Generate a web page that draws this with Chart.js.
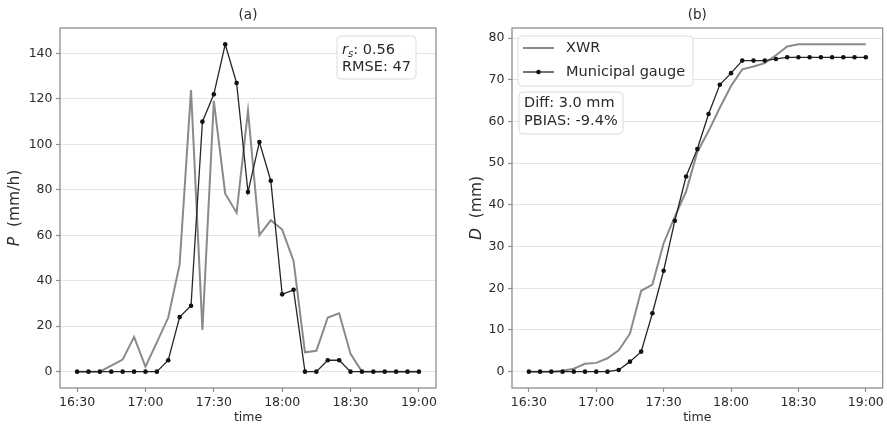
<!DOCTYPE html>
<html>
<head>
<meta charset="utf-8">
<script src="https://cdn.jsdelivr.net/npm/chart.js@4.4.1/dist/chart.umd.min.js"></script>
<style>
  html, body { margin: 0; padding: 0; background: #fff; }
  #wrap { position: relative; width: 887px; height: 425px; overflow: hidden; }
  canvas { position: absolute; top: 0; }
  #ca { left: 0; }
  #cb { left: 450px; }
</style>
</head>
<body>
<div id="wrap">
  <canvas id="ca" width="450" height="425"></canvas>
  <canvas id="cb" width="437" height="425"></canvas>
</div>
<script>
// 5-minute time steps
const times = ['16:30','16:35','16:40','16:45','16:50','16:55','17:00','17:05','17:10','17:15','17:20',
               '17:25','17:30','17:35','17:40','17:45','17:50','17:55','18:00','18:05','18:10',
               '18:15','18:20','18:25','18:30','18:35','18:40','18:45','18:50','18:55','19:00'];

// Rain rate P (mm/h)
const xwrRate   = [0,0,0,2.6,5.3,15.3,2.2,12.9,23.8,47.2,123.9,18.3,119.1,78.3,69.9,114.8,60.1,66.6,62.5,48.7,
                   8.5,9.2,23.8,25.7,7.8,0,0,0,0,0,0];
const gaugeRate = [0,0,0,0,0,0,0,0,5,24,29,110,122,144,127,79,101,84,34,36,
                   0,0,5,5,0,0,0,0,0,0,0];

// Accumulated depth D (mm)
const xwrDepth   = [0,0,0,0.2,0.7,1.9,2.1,3.2,5.1,9.1,19.4,20.9,30.8,37.2,43.2,52.7,57.7,63.3,68.5,72.5,
                    73.2,74.0,75.9,78.0,78.5,78.5,78.5,78.5,78.5,78.5,78.5];
const gaugeDepth = [0,0,0,0,0,0,0,0,0.4,2.4,4.8,14.0,24.2,36.2,46.8,53.4,61.8,68.8,71.6,74.6,
                    74.6,74.6,75.0,75.4,75.4,75.4,75.4,75.4,75.4,75.4,75.4];

const timeTicks  = ['16:30','17:00','17:30','18:00','18:30','19:00'];
const rateTicks  = [0,20,40,60,80,100,120,140];
const depthTicks = [0,10,20,30,40,50,60,70,80];

const seriesNames = ['XWR', 'Municipal gauge'];
const rateStats  = { rs: '0.56', rmse: '47' };
const depthStats = { diff: '3.0 mm', pbias: '-9.4%' };

const FONT = '"DejaVu Sans", sans-serif';
const TEXT = '#2a2a2a';
const FRAME = '#8f8f8f';
const GRID = '#e4e4e4';
const XWR_COLOR = '#8a8a8a';
const GAUGE_COLOR = '#262626';

const toMin = s => { const [h, m] = s.split(':').map(Number); return h * 60 + m - (16 * 60 + 30); };
const pts = vals => vals.map((v, i) => ({ x: toMin(times[i]), y: v }));

function padRange(arrs) {
  const all = [].concat(...arrs);
  const lo = Math.min(...all), hi = Math.max(...all);
  const p = (hi - lo) * 0.05;
  return [lo - p, hi + p];
}

function roundBox(ctx, x, y, w, h, r) {
  ctx.beginPath();
  ctx.moveTo(x + r, y);
  ctx.lineTo(x + w - r, y); ctx.arcTo(x + w, y, x + w, y + r, r);
  ctx.lineTo(x + w, y + h - r); ctx.arcTo(x + w, y + h, x + w - r, y + h, r);
  ctx.lineTo(x + r, y + h); ctx.arcTo(x, y + h, x, y + h - r, r);
  ctx.lineTo(x, y + r); ctx.arcTo(x, y, x + r, y, r);
  ctx.closePath();
  ctx.fillStyle = 'rgba(255,255,255,0.85)';
  ctx.fill();
  ctx.strokeStyle = '#dcdcdc';
  ctx.lineWidth = 1;
  ctx.stroke();
}

function panelDecor(title, yItalic, yRest, yLabelX, extra) {
  return {
    id: 'panelDecor',
    afterDatasetsDraw(chart) {
      const { ctx, chartArea: a } = chart;
      ctx.save();
      // full frame around the plotting area
      ctx.strokeStyle = FRAME;
      ctx.lineWidth = 1.3;
      ctx.strokeRect(a.left, a.top, a.right - a.left, a.bottom - a.top);
      // panel title
      ctx.fillStyle = TEXT;
      ctx.font = '13.5px ' + FONT;
      ctx.textAlign = 'center';
      ctx.textBaseline = 'middle';
      ctx.fillText(title, (a.left + a.right) / 2, 15);
      // rotated y label with italic symbol
      ctx.save();
      ctx.translate(yLabelX, (a.top + a.bottom) / 2);
      ctx.rotate(-Math.PI / 2);
      ctx.textAlign = 'left';
      ctx.font = 'italic 15.5px ' + FONT;
      const w1 = ctx.measureText(yItalic).width;
      ctx.font = '15.5px ' + FONT;
      const w2 = ctx.measureText(yRest).width;
      let x0 = -(w1 + w2) / 2;
      ctx.font = 'italic 15.5px ' + FONT;
      ctx.fillText(yItalic, x0, 0);
      ctx.font = '15.5px ' + FONT;
      ctx.fillText(yRest, x0 + w1, 0);
      ctx.restore();
      extra(ctx, a, chart);
      ctx.restore();
    }
  };
}

function baseOptions(yRange, yTicks, yWidth, padRight) {
  return {
    responsive: false,
    animation: false,
    devicePixelRatio: 1,
    layout: { padding: { top: 28, right: padRight, bottom: 0, left: 0 } },
    plugins: { legend: { display: false }, tooltip: { enabled: false }, title: { display: false } },
    elements: { line: { tension: 0 } },
    scales: {
      x: {
        type: 'linear',
        min: -7.5, max: toMin(times[times.length - 1]) + 7.5,
        afterBuildTicks: s => { s.ticks = timeTicks.map(t => ({ value: toMin(t) })); },
        afterFit: s => { s.height = 37; },
        border: { display: false },
        grid: { drawOnChartArea: false, drawTicks: true, tickLength: 4, tickColor: FRAME, tickWidth: 1.2 },
        ticks: {
          autoSkip: false, maxRotation: 0, padding: 3, color: TEXT,
          font: { family: FONT, size: 12.5 },
          callback: v => timeTicks.find(t => toMin(t) === v) || ''
        },
        title: { display: true, text: 'time', color: TEXT, font: { family: FONT, size: 12.5 }, padding: { top: 0, bottom: 0 } }
      },
      y: {
        type: 'linear',
        min: yRange[0], max: yRange[1],
        afterBuildTicks: s => { s.ticks = yTicks.map(v => ({ value: v })); },
        afterFit: s => { s.width = yWidth; },
        border: { display: false },
        grid: { color: GRID, lineWidth: 1, drawTicks: true, tickLength: 4, tickColor: FRAME, tickWidth: 1.2 },
        ticks: { padding: 3.5, color: TEXT, font: { family: FONT, size: 12.5 }, callback: v => String(v) }
      }
    }
  };
}

function datasets(xwr, gauge) {
  return [
    { label: seriesNames[0], data: pts(xwr), borderColor: XWR_COLOR, borderWidth: 2, pointRadius: 0, order: 2 },
    { label: seriesNames[1], data: pts(gauge), borderColor: GAUGE_COLOR, borderWidth: 1.3,
      pointRadius: 2.3, pointBackgroundColor: '#111', pointBorderWidth: 0, order: 1 }
  ];
}

// (a) rain rate
new Chart(document.getElementById('ca'), {
  type: 'line',
  data: { datasets: datasets(xwrRate, gaugeRate) },
  options: baseOptions(padRange([xwrRate, gaugeRate]), rateTicks, 60, 14),
  plugins: [panelDecor('(a)', 'P', '  (mm/h)', 15, (ctx, a) => {
    const bx = a.right - 99, by = a.top + 8;
    roundBox(ctx, bx, by, 79, 43, 4);
    ctx.fillStyle = TEXT;
    ctx.textAlign = 'left';
    ctx.textBaseline = 'alphabetic';
    const tx = bx + 5, l1 = by + 17.5, l2 = by + 35;
    ctx.font = 'italic 14.5px ' + FONT;
    ctx.fillText('r', tx, l1);
    let x = tx + ctx.measureText('r').width;
    ctx.font = 'italic 10px ' + FONT;
    ctx.fillText('s', x, l1 + 3);
    x += ctx.measureText('s').width;
    ctx.font = '14.5px ' + FONT;
    ctx.fillText(': ' + rateStats.rs, x, l1);
    ctx.fillText('RMSE: ' + rateStats.rmse, tx, l2);
  })]
});

// (b) accumulated depth
new Chart(document.getElementById('cb'), {
  type: 'line',
  data: { datasets: datasets(xwrDepth, gaugeDepth) },
  options: baseOptions(padRange([xwrDepth, gaugeDepth]), depthTicks, 62, 1),
  plugins: [panelDecor('(b)', 'D', '  (mm)', 27, (ctx, a, chart) => {
    // legend
    const lx = a.left + 6, ly = a.top + 8;
    roundBox(ctx, lx, ly, 175, 50, 4);
    const ds = chart.data.datasets;
    const rows = [ly + 12, ly + 36];
    ds.forEach((d, i) => {
      const y = rows[i];
      ctx.strokeStyle = d.borderColor;
      ctx.lineWidth = d.borderWidth;
      ctx.beginPath();
      ctx.moveTo(lx + 5, y); ctx.lineTo(lx + 36, y);
      ctx.stroke();
      if (d.pointRadius > 0) {
        ctx.fillStyle = d.pointBackgroundColor;
        ctx.beginPath();
        ctx.arc(lx + 20.5, y, d.pointRadius, 0, Math.PI * 2);
        ctx.fill();
      }
      ctx.fillStyle = TEXT;
      ctx.font = '14.5px ' + FONT;
      ctx.textAlign = 'left';
      ctx.textBaseline = 'middle';
      ctx.fillText(d.label, lx + 48, y);
    });
    // statistics box
    const bx = a.left + 7, by = a.top + 64;
    roundBox(ctx, bx, by, 104, 42, 4);
    ctx.fillStyle = TEXT;
    ctx.font = '14.5px ' + FONT;
    ctx.textAlign = 'left';
    ctx.textBaseline = 'middle';
    ctx.fillText('Diff: ' + depthStats.diff, bx + 5, by + 11.5);
    ctx.fillText('PBIAS: ' + depthStats.pbias, bx + 5, by + 29.5);
  })]
});
</script>
</body>
</html>
